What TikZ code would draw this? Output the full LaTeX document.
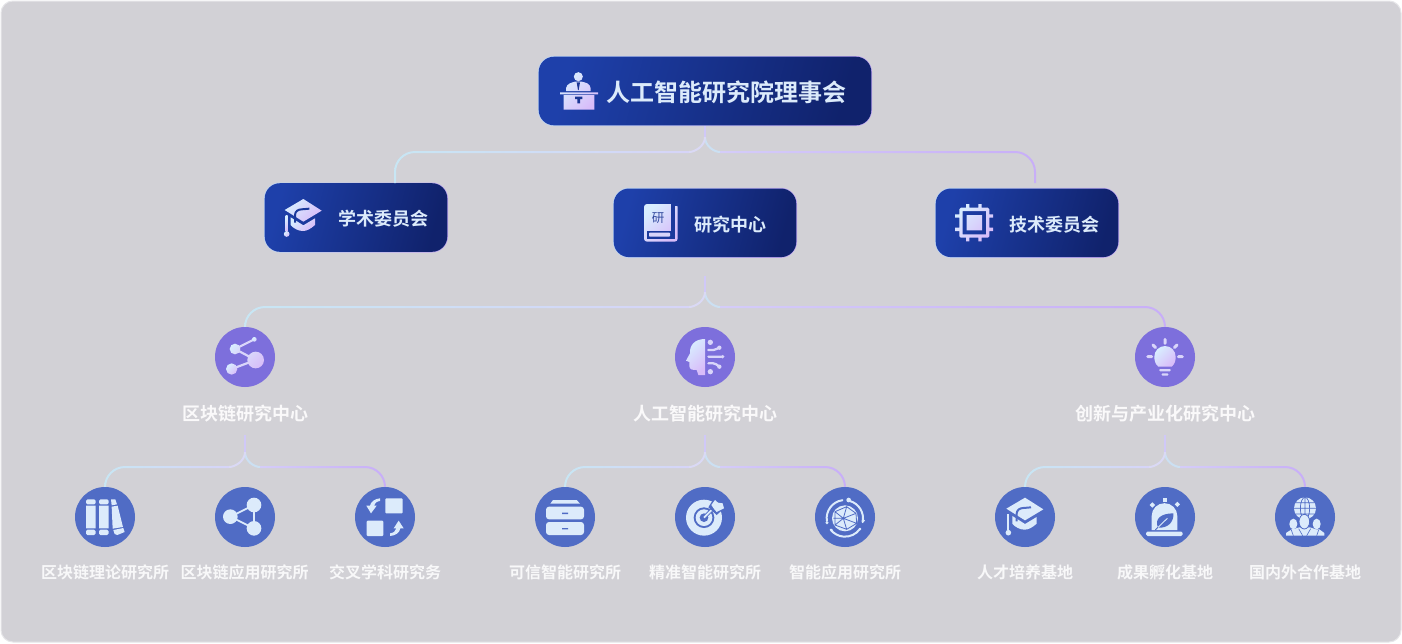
\documentclass[tikz,border=0pt]{standalone}
\usepackage{fontspec}
\usetikzlibrary{calc}
\newfontfamily\cjk{Noto Sans CJK SC}
\newfontfamily\cjkm{Noto Sans CJK SC Bold}
\definecolor{bgc}{HTML}{D2D1D6}
\definecolor{bgl}{HTML}{E6E6E9}
\definecolor{ic}{HTML}{DCEBFB}
\definecolor{bl}{HTML}{506CC5}
\definecolor{pu}{HTML}{7D6FDC}
\definecolor{dk}{HTML}{1B3694}
\definecolor{cA}{HTML}{C8E6F4}
\definecolor{cB}{HTML}{D6D4F8}
\definecolor{cC}{HTML}{D4CCF9}
\definecolor{cD}{HTML}{C8AEF8}
\definecolor{fa}{HTML}{DAD9F5}
\definecolor{fb}{HTML}{CBE0F3}
\definecolor{fs}{HTML}{D0C8F8}
\definecolor{ga}{HTML}{D8EEFF}
\definecolor{gb}{HTML}{D8BCF9}
\definecolor{gm}{HTML}{D9D5FA}
\definecolor{HA}{HTML}{1E40AA}
\definecolor{HB}{HTML}{10226C}
\tikzset{
  frameb/.style={fill=bgc,draw=bgl,line width=1pt,rounded corners=12pt},
  edgebox/.style={left color=ga!80!bl,right color=gb!70!pu,shading angle=70,rounded corners=16pt,inner sep=0pt,minimum height=70pt},
  corebox/.style={left color=HA,right color=HB,shading angle=75,rounded corners=15.3pt,inner sep=0pt,minimum height=68.6pt},
  title/.style={font=\cjkm\fontsize{24}{24}\selectfont,text=ic,inner sep=0pt},
  sub/.style={font=\cjkm\fontsize{18}{18}\selectfont,text=ic,inner sep=0pt},
  lab/.style={font=\cjkm\fontsize{18}{18}\selectfont,text=white!88!bgc,inner sep=0pt},
  small/.style={font=\cjkm\fontsize{16}{16}\selectfont,text=white!85!bgc,inner sep=0pt},
  disc/.style={circle,fill=#1,minimum size=60pt,inner sep=0pt},
  grad/.style={left color=ga,right color=gb,shading angle=45},
  flat/.style={fill=ic},
  conn/.style={line width=2pt},
}
% left hook of a bus: from child point #1 up and right to junction #2
\newcommand\busleft[2]{\shade[left color=cA,right color=cB] let \p1=(#1),\p2=(#2) in
  (\x1-1pt,\y1) -- (\x1-1pt,\y2-20pt) arc[start angle=180,end angle=270,radius=21]
  -- (\x2,\y2+1pt) -- (\x2,\y2-1pt) -- (\x1+20pt,\y2-1pt)
  arc[start angle=270,end angle=180,radius=19] -- (\x1+1pt,\y1) -- cycle;}
% right hook of a bus: from child point #1 up and left to junction #2
\newcommand\busright[2]{\shade[left color=cC,right color=cD] let \p1=(#1),\p2=(#2) in
  (\x1+1pt,\y1) -- (\x1+1pt,\y2-20pt) arc[start angle=0,end angle=-90,radius=21]
  -- (\x2,\y2+1pt) -- (\x2,\y2-1pt) -- (\x1-20pt,\y2-1pt)
  arc[start angle=-90,end angle=0,radius=19] -- (\x1-1pt,\y1) -- cycle;}
% fork from parent point #1 to the junctions #2 (left) and #3 (right)
\newcommand\forkup[3]{%
  \draw[conn,color=fb] ($(#1 |- #3)+(0,-15)$) .. controls ($(#1 |- #3)+(0,-6)$) and ($(#3)+(-6,0)$) .. (#3);
  \draw[conn,color=fa] ($(#1 |- #2)+(0,-15)$) .. controls ($(#1 |- #2)+(0,-6)$) and ($(#2)+(6,0)$) .. (#2);
  \draw[conn,color=fs] (#1) -- ($(#1 |- #2)+(0,-15)$);}
\newcommand\capicon[2]{%
  \path[#1] (160,87) -- (215,122) -- (160,155) -- (104,120) -- cycle;
  \path[#1] (122,142) -- (160,166) -- (195,145) -- (195,165) .. controls (180,178) and (170,183) .. (158,183) .. controls (145,183) and (130,175) .. (122,165) -- cycle;
  \draw[#2,line width=2pt] (135,158) -- (135,135) .. controls (135,124) and (145,118) .. (155,118) -- (178,116);
  \path[#1] (107,137) rectangle (113,185);
  \path[#1] (110,192) circle[radius=8.5];}
\begin{document}
\begin{tikzpicture}[x=1pt,y=-1pt]
\useasboundingbox (0,0) rectangle (1402,643);
\fill[white] (0,0) rectangle (1402,643);
\node[frameb,minimum width=1400pt,minimum height=641pt,inner sep=0pt] (frame) at (701,321.5) {};

% ---------- boxes
\node[edgebox,minimum width=334pt] (council) at (705,91) {};
\node[corebox,minimum width=332.6pt] (councilin) at (705,91) {};
\node[title] (councilt) at (726.5,92) {人工智能研究院理事会};
\node[edgebox,minimum width=184pt] (acad) at (356,217.5) {};
\node[corebox,minimum width=182.6pt] (acadin) at (356,217.5) {};
\node[sub] (acadt) at (383,219) {学术委员会};
\node[edgebox,minimum width=184pt] (rc) at (705,222.8) {};
\node[corebox,minimum width=182.6pt] (rcin) at (705,222.8) {};
\node[sub] (rct) at (730.5,225) {研究中心};
\node[edgebox,minimum width=184pt] (tech) at (1027,222.8) {};
\node[corebox,minimum width=182.6pt] (techin) at (1027,222.8) {};
\node[sub] (techt) at (1054,225) {技术委员会};

% ---------- discs
\foreach \n/\x in {d1/245,d2/705,d3/1165}{\node[disc=pu] (\n) at (\x,357) {};}
\foreach \n/\x in {a1/105,a2/245,a3/385,b1/565,b2/705,b3/845,c1/1025,c2/1165,c3/1305}{\node[disc=bl] (\n) at (\x,517) {};}

% ---------- labels
\node[lab] (d1t) at (245,413.5) {区块链研究中心};
\node[lab] (d2t) at (705.5,413.5) {人工智能研究中心};
\node[lab] (d3t) at (1165,413.5) {创新与产业化研究中心};
\node[small] (a1t) at (105,572) {区块链理论研究所};
\node[small] (a2t) at (244.5,572) {区块链应用研究所};
\node[small] (a3t) at (385,572) {交叉学科研究务};
\node[small] (b1t) at (565,572) {可信智能研究所};
\node[small] (b2t) at (705,572) {精准智能研究所};
\node[small] (b3t) at (845,572) {智能应用研究所};
\node[small] (c1t) at (1025,572) {人才培养基地};
\node[small] (c2t) at (1165,572) {成果孵化基地};
\node[small] (c3t) at (1305,572) {国内外合作基地};

% ---------- connectors
\coordinate (p0) at (council.south);
\coordinate (jl0) at (689,152); \coordinate (jr0) at (720,152);
\coordinate (acadtop) at (395,183); \coordinate (techtop) at (1035,183);
\busleft{acadtop}{jl0}\busright{techtop}{jr0}\forkup{p0}{jl0}{jr0}
\coordinate (p1) at (705,276);
\coordinate (jl1) at (689,307); \coordinate (jr1) at (720,307);
\busleft{d1.north}{jl1}\busright{d3.north}{jr1}\forkup{p1}{jl1}{jr1}
\foreach \c/\l/\r/\t in {245/a1/a3/d1,705/b1/b3/d2,1165/c1/c3/d3}{
  \coordinate (pp) at (\c,435);
  \coordinate (jl) at (\c-16,467); \coordinate (jr) at (\c+15,467);
  \busleft{\l.north}{jl}\busright{\r.north}{jr}\forkup{pp}{jl}{jr}
}

% ---------- podium icon
\begin{scope}[shift={(500,40)},scale=1/3]
\shade[grad,even odd rule] (235,110) circle[radius=13.5]
  (198,153) -- (198,145) .. controls (200,130) and (215,128) .. (225,125) -- (245,125) .. controls (258,128) and (270,130) .. (272,145) -- (272,153) -- cycle
  (180,157) rectangle (294,163) (191,165) rectangle (283,209);
\fill[dk] (230,127) -- (240,127) -- (236,150) -- (234,150) -- cycle;
\fill[dk] (225,170) rectangle (247,177) (232,177) rectangle (240,190);
% book icon
\shade[grad,rounded corners=3pt] (432,492) rectangle (533,605);
\fill[HA!78!HB] (513,488) rectangle (525,575);
\fill[HA!78!HB] (513,488) rectangle (537,497);
\fill[HA!78!HB] (441,574) rectangle (525,597);
\fill[gm,rounded corners=.8pt] (447,578) rectangle (510,590);
\node[inner sep=0pt,text=dk!90!white,font=\cjk\fontsize{12.5}{12.5}\selectfont] (bookt) at (474,534) {研};
\end{scope}

% ---------- cap icon
\begin{scope}[shift={(250,170)},scale=1/3]
\capicon{grad}{HA!75!HB}
\end{scope}

% ---------- chip icon
\begin{scope}[shift={(920,170)},scale=1/3]
\shade[grad,even odd rule] (118,113) [rounded corners=1.5pt] rectangle (208,203) [sharp corners] (128,123) rectangle (198,193) (140,135) rectangle (186,181)
  (138,102) rectangle (148,113) (175,102) rectangle (185,113)
  (138,203) rectangle (148,214) (175,203) rectangle (185,214)
  (105,133) rectangle (118,143) (105,173) rectangle (118,183)
  (208,133) rectangle (219,143) (208,173) rectangle (219,183);
\end{scope}

% ---------- nodes icon
\begin{scope}[shift={(170,300)},scale=1/3]
\draw[gm,line width=2.2pt] (195,147) -- (253,118) (195,147) -- (257,180) (185,207) -- (257,180);
\shade[left color=ga,right color=gm,shading angle=45] (195,147) circle[radius=16];
\shade[left color=ga,right color=gm,shading angle=45] (253,118) circle[radius=7];
\shade[left color=gm,right color=gb,shading angle=45] (257,180) circle[radius=25];
\shade[left color=ga,right color=gb,shading angle=45] (185,207) circle[radius=17];
\end{scope}

% ---------- head icon
\begin{scope}[shift={(630,300)},scale=1/3]
\shade[grad] (225,117) .. controls (195,117) and (178,135) .. (180,160) -- (168,182) -- (178,186) -- (178,198) .. controls (178,210) and (190,210) .. (200,210) -- (205,225) -- (225,225) -- cycle;
\fill[gm] (241,127) circle[radius=8] (241,215) circle[radius=8] (278,170) circle[radius=5.5] (268,143) circle[radius=6.5] (268,200) circle[radius=6.5];
\draw[gm,line width=2.3pt,line cap=round] (235,170) -- (275,170)
  (235,150) -- (250,150) .. controls (258,150) and (260,145) .. (268,143)
  (235,190) -- (250,190) .. controls (258,190) and (260,195) .. (268,200);
\end{scope}

% ---------- bulb icon
\begin{scope}[shift={(1090,300)},scale=1/3]
\shade[grad] (205,200) .. controls (195,192) and (193,180) .. (193,170) arc[start angle=180,end angle=360,radius=32] .. controls (257,180) and (255,192) .. (245,200) -- cycle;
\draw[gm,line width=3pt,line cap=round] (225,118) -- (225,130) (189,135) -- (197,143) (261,135) -- (253,143) (173,170) -- (185,170) (265,170) -- (277,170);
\fill[gm,rounded corners=.8pt] (208,207) rectangle (242,214) (215,220) rectangle (235,227);
\end{scope}

% ---------- books icon
\begin{scope}[shift={(30,450)},scale=1/3]
\fill[ic,rounded corners=1.5pt] (168,148) rectangle (197,163) (168,239) rectangle (197,255) (207,148) rectangle (236,163) (207,239) rectangle (236,255);
\fill[ic] (168,167) rectangle (197,235) (207,167) rectangle (236,235);
\fill[ic] (243,148) -- (256,148) -- (261,163) -- (245,166) -- cycle
  (245,170) -- (263,167) -- (279,231) -- (248,236) -- cycle
  (250,240) -- (280,234) -- (284,246) -- (262,255) -- (254,252) -- cycle;
% share icon
\draw[ic,line width=1.8pt] (601,200) -- (672,165) -- (672,235) -- cycle;
\fill[ic] (672,165) circle[radius=22] (601,200) circle[radius=22] (672,235) circle[radius=22];
% exchange icon
\fill[ic,rounded corners=1pt] (1066,145) rectangle (1118,190) (1010,212) rectangle (1060,258);
\fill[ic] (1050,145) -- (1050,153) .. controls (1040,154) and (1033,160) .. (1032,167) -- (1040,167) -- (1023,190) -- (1009,167) -- (1020,167) .. controls (1022,155) and (1035,146) .. (1050,145) -- cycle;
\fill[ic] (1080,258) -- (1080,250) .. controls (1090,249) and (1098,243) .. (1099,235) -- (1091,235) -- (1106,212) -- (1121,235) -- (1111,235) .. controls (1109,248) and (1096,257) .. (1080,258) -- cycle;
\end{scope}

% ---------- drawers, target, globe
\begin{scope}[shift={(500,450)},scale=1/3]
\fill[ic] (151,161) -- (159,150) -- (230,150) -- (240,161) -- cycle;
\fill[ic,rounded corners=3pt] (138,170) rectangle (252,208) (138,216) rectangle (252,255);
\fill[bl] (186,188) rectangle (204,192) (186,234) rectangle (204,238);
% target
\fill[ic] (612,203) circle[radius=54];
\fill[bl] (612,203) circle[radius=31];
\fill[ic] (612,203) circle[radius=25];
\fill[bl] (612,203) circle[radius=13];
\draw[bl,line width=3.6pt] (612,203) -- (650,165);
\draw[ic,line width=1.8pt] (612,203) -- (652,163);
\fill[bl] (625,172) -- (643,143) -- (678,170) -- (650,195) -- cycle;
\fill[ic] (634,165) -- (645,150) -- (654,158) -- (668,160) -- (672,175) -- (650,186) -- (643,178) -- cycle;
% globe
\fill[ic] (1035,205) circle[radius=39];
\draw[bl,line width=.8pt] (1005,185) -- (1040,170) -- (1068,190) -- (1070,220) -- (1040,238) -- (1005,225) -- cycle
  (1040,170) -- (1030,205) -- (1068,190) (1030,205) -- (1070,220) (1030,205) -- (1040,238) (1030,205) -- (1005,185) (1030,205) -- (1000,205) (1030,205) -- (1005,225);
\draw[ic,line width=2pt,line cap=round] (1035,205) ++(-75:54) arc[start angle=-75,end angle=12,radius=54]
  (1035,205) ++(172:55) arc[start angle=172,end angle=262,radius=55]
  (1035,205) ++(35:55) arc[start angle=35,end angle=142,radius=55];
\fill[ic] (1046,150) circle[radius=7] (1090,212) circle[radius=5] (981,218) circle[radius=5] (995,240) circle[radius=4] (1080,237) circle[radius=4];
\end{scope}

% ---------- cap, lamp, people
\begin{scope}[shift={(960,450)},scale=1/3]
\begin{scope}[shift={(35,56)}]\capicon{flat}{bl}\end{scope}
\fill[ic,rounded corners=1.5pt] (558,245) rectangle (668,258);
\fill[ic] (575,240) -- (575,198) arc[start angle=180,end angle=360,radius=38.5] -- (652,240) -- cycle;
\fill[bl] (594,233) .. controls (582,205) and (605,190) .. (640,190) .. controls (642,215) and (625,235) .. (594,233) -- cycle;
\draw[ic,line width=.9pt] (588,238) -- (622,205);
\draw[bl,line width=.9pt] (586,240) -- (594,232);
\fill[ic] (608,145) rectangle (622,157);
\fill[ic] (577,157) -- (585,165) -- (577,173) -- (569,165) -- cycle (652,155) -- (660,163) -- (652,171) -- (644,163) -- cycle;
% people
\fill[ic] (1035,175) circle[radius=33];
\draw[bl,line width=.7pt] (1035,175) ellipse[x radius=14,y radius=33] (1002,175) -- (1068,175) (1035,142) -- (1035,208) (1007,158) -- (1063,158) (1007,192) -- (1063,192);
\fill[ic] (978,257) -- (978,249) -- (995,238) -- (1005,236) -- (1018,232) -- (1050,232) -- (1068,238) -- (1078,238) -- (1093,249) -- (1093,257) -- cycle;
\fill[ic] (1000,222) ellipse[x radius=12,y radius=16];
\fill[ic] (1070,222) ellipse[x radius=12,y radius=16];
\filldraw[fill=ic,draw=bl,line width=.8pt] (1033,215) ellipse[x radius=16,y radius=22];
\draw[bl,line width=.6pt] (1016,236) -- (1028,257) (1052,236) -- (1040,257) (994,240) -- (1000,257) (1076,240) -- (1070,257);
\end{scope}
\end{tikzpicture}
\end{document}
